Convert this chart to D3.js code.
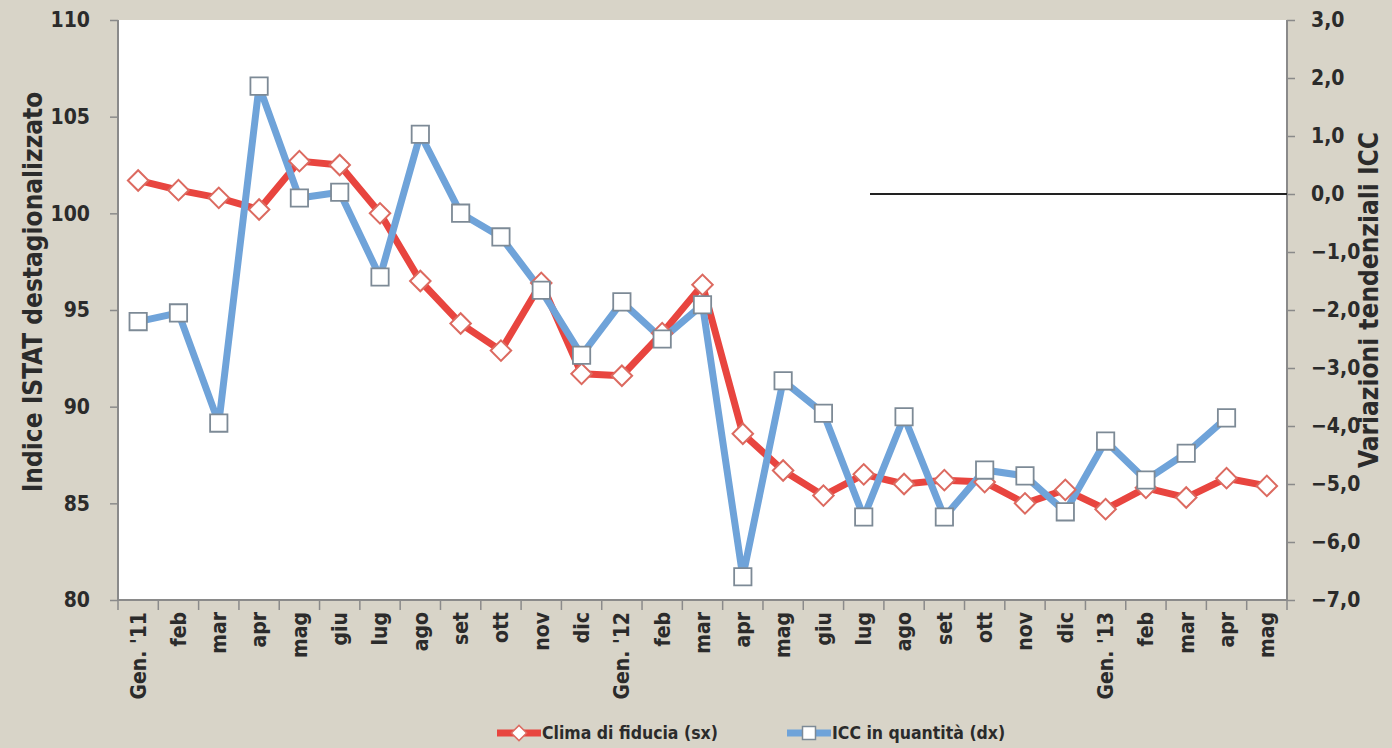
<!DOCTYPE html>
<html><head><meta charset="utf-8">
<script src="https://cdn.jsdelivr.net/npm/d3@7"></script>
<style>
html,body{margin:0;padding:0;background:#d8d4c8;}
svg{display:block;}
text{font-family:"DejaVu Sans",sans-serif;font-stretch:condensed;font-weight:bold;fill:#2b2b2b;}
</style></head>
<body>
<svg id="chart" width="1392" height="748"></svg>
<script>
const categories = ["Gen. '11","feb","mar","apr","mag","giu","lug","ago","set","ott","nov","dic",
  "Gen. '12","feb","mar","apr","mag","giu","lug","ago","set","ott","nov","dic",
  "Gen. '13","feb","mar","apr","mag"];
const clima = [101.7,101.2,100.8,100.2,102.7,102.5,100.0,96.5,94.3,92.9,96.4,91.7,
  91.6,93.8,96.3,88.6,86.7,85.4,86.5,86.0,86.2,86.1,85.0,85.7,84.7,85.8,85.3,86.3,85.9];
const icc = [-2.2,-2.05,-3.95,1.86,-0.07,0.03,-1.43,1.03,-0.33,-0.74,-1.66,-2.78,
  -1.86,-2.5,-1.91,-6.6,-3.22,-3.78,-5.57,-3.84,-5.57,-4.76,-4.86,-5.48,-4.26,-4.93,-4.47,-3.86,null];
const leftTicks = [80,85,90,95,100,105,110];
const rightTicks = [-7,-6,-5,-4,-3,-2,-1,0,1,2,3];
const seriesNames = ["Clima di fiducia (sx)","ICC in quantità (dx)"];
const leftTitle = "Indice ISTAT destagionalizzato";
const rightTitle = "Variazioni tendenziali ICC";

const RED = "#e8453f", BLUE = "#6fa3d9";
const svg = d3.select("#chart");
const m = {left:118, right:1287, top:20, bottom:600};

const x = d3.scaleBand().domain(d3.range(categories.length)).range([m.left, m.right]);
const yL = d3.scaleLinear().domain([80,110]).range([m.bottom, m.top]);
const yR = d3.scaleLinear().domain([-7,3]).range([m.bottom, m.top]);
const cx = i => x(i) + x.bandwidth()/2;

svg.append("rect").attr("x",m.left).attr("y",m.top).attr("width",m.right-m.left).attr("height",m.bottom-m.top).attr("fill","#fff");

const fmtR = d => d3.format(".1f")(d).replace(".",",");

const gl = svg.append("g").attr("transform",`translate(${m.left},0)`)
  .call(d3.axisLeft(yL).tickValues(leftTicks).tickSize(8).tickPadding(20).tickFormat(d3.format("d")));
const gr = svg.append("g").attr("transform",`translate(${m.right},0)`)
  .call(d3.axisRight(yR).tickValues(rightTicks).tickSize(8).tickPadding(16).tickFormat(fmtR));
const gb = svg.append("g").attr("transform",`translate(0,${m.bottom})`)
  .call(d3.axisBottom(x).tickSize(0).tickFormat(i=>categories[i]));
[gl,gr,gb].forEach(g=>{
  g.select(".domain").attr("stroke","#8a8a8a").attr("stroke-width",2);
  g.selectAll(".tick line").attr("stroke","#8a8a8a").attr("stroke-width",1.5);
  g.selectAll("text").style("font-size","21px").attr("fill","#2b2b2b");
});
gl.select(".domain").attr("d",`M0,${m.top}V${m.bottom}`);
gr.select(".domain").attr("d",`M0,${m.top}V${m.bottom}`);
gb.select(".domain").attr("d",`M${m.left},0H${m.right}`);
gb.selectAll(".tick text")
  .attr("transform","rotate(-90)").attr("text-anchor","end")
  .attr("x",-12).attr("y",0).attr("dy","0.35em");
const bounds = d3.range(categories.length+1).map(i => m.left + i*x.step());
gb.selectAll(".btick").data(bounds).enter().append("line")
  .attr("x1",d=>d).attr("x2",d=>d).attr("y1",0).attr("y2",10)
  .attr("stroke","#8a8a8a").attr("stroke-width",1.5);

svg.append("line").attr("x1",870).attr("x2",m.right).attr("y1",yR(0)).attr("y2",yR(0))
  .attr("stroke","#222").attr("stroke-width",2);

const lineL = d3.line().defined(d=>d!=null).x((d,i)=>cx(i)).y(d=>yL(d));
const lineR = d3.line().defined(d=>d!=null).x((d,i)=>cx(i)).y(d=>yR(d));
svg.append("path").datum(clima).attr("d",lineL).attr("fill","none").attr("stroke",RED).attr("stroke-width",7).attr("stroke-linejoin","round");
svg.append("path").datum(icc).attr("d",lineR).attr("fill","none").attr("stroke",BLUE).attr("stroke-width",7).attr("stroke-linejoin","round");

const diamond = d3.symbol().type(d3.symbolSquare).size(210);
const square = d3.symbol().type(d3.symbolSquare).size(300);
svg.append("g").selectAll("path").data(clima.map((v,i)=>({v,i})).filter(d=>d.v!=null)).enter().append("path")
  .attr("d",diamond).attr("transform",d=>`translate(${cx(d.i)},${yL(d.v)}) rotate(45)`)
  .attr("fill","#fff").attr("stroke","#dc6a60").attr("stroke-width",2);
svg.append("g").selectAll("path").data(icc.map((v,i)=>({v,i})).filter(d=>d.v!=null)).enter().append("path")
  .attr("d",square).attr("transform",d=>`translate(${cx(d.i)},${yR(d.v)})`)
  .attr("fill","#fff").attr("stroke","#7d8a96").attr("stroke-width",1.8);

svg.append("text").attr("transform",`translate(42,292) rotate(-90)`)
  .attr("text-anchor","middle").style("font-size","26px").text(leftTitle);
svg.append("text").attr("transform",`translate(1378,300) rotate(-90)`)
  .attr("text-anchor","middle").style("font-size","26px").text(rightTitle);

const lg = svg.append("g");
const legendItems = [{name:seriesNames[0], color:RED, sym:diamond, rot:45, stroke:"#dc6a60", x:497},
                     {name:seriesNames[1], color:BLUE, sym:square, rot:0, stroke:"#7d8a96", x:787}];
legendItems.forEach(it=>{
  lg.append("line").attr("x1",it.x).attr("x2",it.x+44).attr("y1",733).attr("y2",733)
    .attr("stroke",it.color).attr("stroke-width",7);
  lg.append("path").attr("d",it.sym).attr("transform",`translate(${it.x+22},733) rotate(${it.rot}) scale(0.75)`)
    .attr("fill","#fff").attr("stroke",it.stroke).attr("stroke-width",2);
  lg.append("text").attr("x",it.x+45).attr("y",733).attr("dy","0.35em").style("font-size","17.5px").text(it.name);
});
</script>
</body></html>
